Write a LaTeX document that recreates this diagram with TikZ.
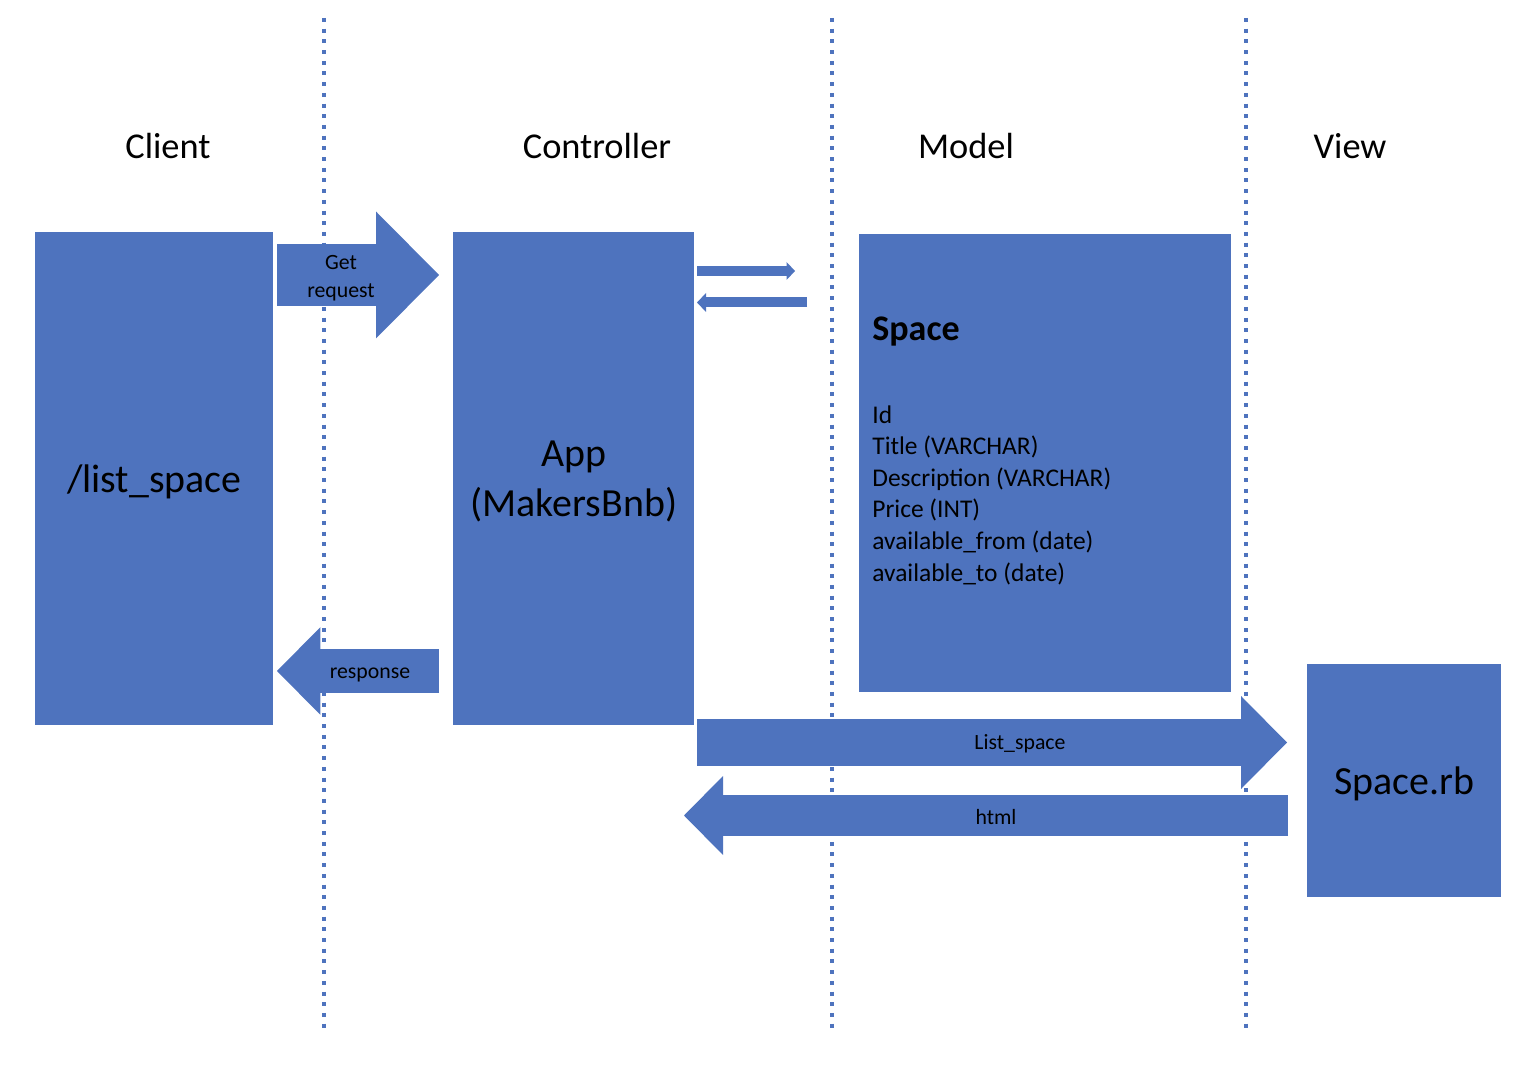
\documentclass[tikz,border=0pt]{standalone}
\usepackage{fontspec}
\setmainfont{Carlito}
\usetikzlibrary{arrows.meta}
\definecolor{myblue}{RGB}{78,115,190}

\begin{document}
\begin{tikzpicture}[
    x=0.02cm, y=-0.02cm,
    box/.style={rectangle, fill=myblue, anchor=north west, inner sep=0pt, align=center, text depth=0pt, font=\fontsize{22.7}{28.5}\selectfont},
    header/.style={font=\fontsize{20.7}{25}\selectfont},
    lane/.style={myblue, line width=0.08cm, dash pattern=on 0.08cm off 0.134cm},
    flow/.style={myblue, line width=#1},
    flowtext/.style={font=\fontsize{12.4}{15.9}\selectfont, align=center},
    fieldtext/.style={font=\fontsize{14.5}{18}\selectfont, align=left, anchor=north west, inner sep=0pt}
]
\useasboundingbox (0,0) rectangle (1518,1070);

% Lanes
\foreach \x in {323.5,831.5,1245.5}
    \draw[lane] (\x,18) -- (\x,1032);

% Headers
\node[header] (clienthead) at (168,146) {Client};
\node[header] (controllerhead) at (597,146) {Controller};
\node[header] (modelhead) at (966,146) {Model};
\node[header] (viewhead) at (1350,146) {View};

% Boxes
\node[box, minimum width=4.76cm, minimum height=9.86cm] (client) at (35,232) {/list\_space};
\node[box, minimum width=4.82cm, minimum height=9.86cm] (app) at (453,232) {App\\(MakersBnb)};
\node[box, minimum width=7.44cm, minimum height=9.16cm] (model) at (859,234) {};
\node[box, minimum width=3.88cm, minimum height=4.66cm] (view) at (1307,664) {Space.rb};

% Model fields
\node[anchor=base west, inner sep=0pt, font=\fontsize{20.5}{25}\selectfont\bfseries] (spacetitle) at (872,341) {Space};
\node[fieldtext] (spacefields) at (872,405) {Id\\Title (VARCHAR)\\Description (VARCHAR)\\Price (INT)\\available\_from (date)\\available\_to (date)};

% Arrow ends
\coordinate (getS) at (277,275);
\coordinate (getE) at (439,275);
\coordinate (askS) at (697,271);
\coordinate (askE) at (795,271);
\coordinate (ansS) at (807,302.5);
\coordinate (ansE) at (697,302.5);
\coordinate (respS) at (439,671);
\coordinate (respE) at (277,671);
\coordinate (listS) at (697,742.5);
\coordinate (listE) at (1287,742.5);
\coordinate (htmlS) at (1288,815.5);
\coordinate (htmlE) at (684,815.5);

% Arrows
\draw[flow=1.26cm, -{Triangle[length=1.26cm, width=2.54cm, line width=0pt]}] (getS) -- (getE);
\draw[flow=0.2cm, -{Triangle[length=0.17cm, width=0.36cm, line width=0pt]}] (askS) -- (askE);
\draw[flow=0.2cm, -{Triangle[length=0.18cm, width=0.38cm, line width=0pt]}] (ansS) -- (ansE);
\draw[flow=0.87cm, -{Triangle[length=0.87cm, width=1.76cm, line width=0pt]}] (respS) -- (respE);
\draw[flow=0.94cm, -{Triangle[length=0.92cm, width=1.86cm, line width=0pt]}] (listS) -- (listE);
\draw[flow=0.82cm, -{Triangle[length=0.78cm, width=1.58cm, line width=0pt]}] (htmlS) -- (htmlE);

% Arrow labels
\node[flowtext] (gettext) at (341,278) {Get\\request};
\node[flowtext] (resptext) at (370,675) {response};
\node[flowtext] (listtext) at (1020,744) {List\_space};
\node[flowtext] (htmltext) at (996,817) {html};

\end{tikzpicture}
\end{document}
